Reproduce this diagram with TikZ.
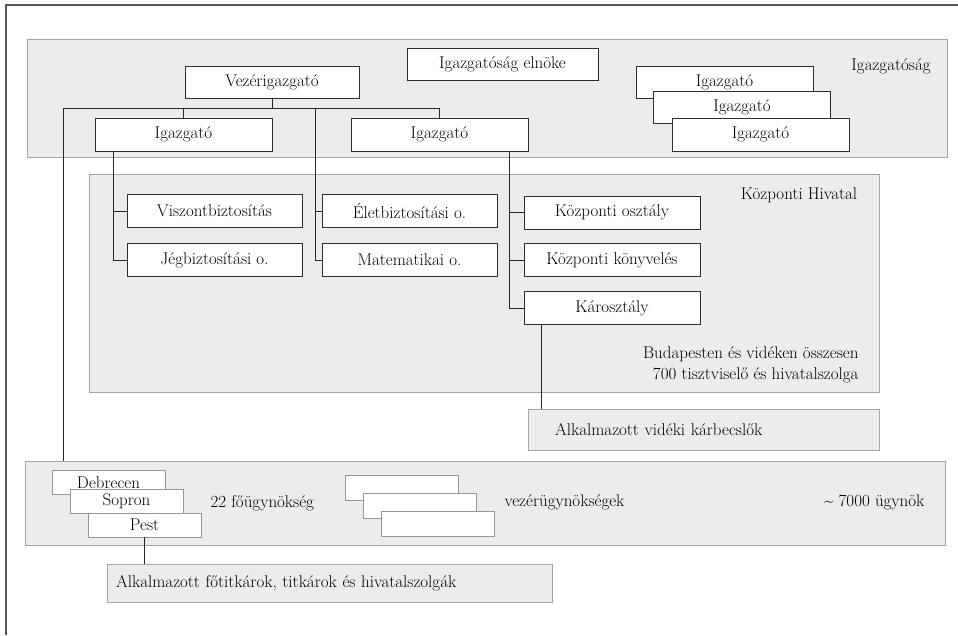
\documentclass[tikz,border=0pt]{standalone}
\usetikzlibrary{
  positioning,
  calc
}
\usepackage{xcolor}
\definecolor{bandFill}{RGB}{236,236,236}
\definecolor{bandEdge}{RGB}{165,165,165}
\definecolor{boxEdge}{RGB}{45,45,45}
\definecolor{agEdge}{RGB}{150,150,150}
\definecolor{frameGray}{RGB}{85,85,85}
\newcommand{\orgBox}[5][]{\node[unitbox,#1] (#2) at (#3,#4) {#5};}
\newcommand{\agBox}[5][]{\node[agencybox,#1] (#2) at (#3,#4) {#5};}
\tikzset{
  unitbox/.style={
    draw=boxEdge,
    fill=white,
    line width=0.9pt,
    inner sep = 0pt,
    minimum width = 176pt,
    minimum height = 33pt
  },
  agencybox/.style={
    draw=agEdge,
    fill=white,
    line width=0.9pt,
    inner sep = 0pt,
    minimum width = 113pt,
    minimum height = 24pt
  },
  band/.style={
    draw=bandEdge,
    fill=bandFill,
    line width=1pt,
    inner sep = 0pt
  },
  link/.style={draw=black!85, line width=0.8pt}
}

\begin{document}
\begin{tikzpicture}[
    x=1pt, y=-1pt,
    font=\fontsize{17}{21}\selectfont
  ]
  \useasboundingbox (0,0) rectangle (958,635);
  \draw[frameGray, line width=1.5pt] (6,635) -- (6,5) -- (958,5);

  % grey bands
  \node[band, minimum width=920pt, minimum height=118pt] (igBand) at (487,98) {};
  \node[band, minimum width=790pt, minimum height=218pt] (khBand) at (484,283) {};
  \node[band, minimum width=351pt, minimum height=41pt, inner xsep=27pt,
        text width=297pt, align=left] (kbBox) at (703.5,429.5) {Alkalmazott vidéki kárbecslők};
  \node[band, minimum width=920pt, minimum height=84pt] (agBand) at (485,503) {};
  \node[band, minimum width=445pt, minimum height=38pt, inner xsep=9pt,
        text width=427pt, align=left] (ftBox) at (329.5,583) {Alkalmazott főtitkárok, titkárok és hivatalszolgák};

  % Igazgatóság
  \orgBox[minimum width=174pt, minimum height=32pt]{vez}{272}{82}{Vezérigazgató}
  \orgBox[minimum width=191pt, minimum height=32pt]{elnok}{502.5}{64}{Igazgatóság elnöke}
  \orgBox[minimum width=177pt]{igL}{183.5}{134.5}{Igazgató}
  \orgBox[minimum width=177pt]{igR}{439.5}{134.5}{Igazgató}
  \orgBox[minimum width=177pt, minimum height=32pt]{igA}{724.5}{82}{Igazgató}
  \orgBox[minimum width=177pt, minimum height=32pt]{igB}{742}{107}{Igazgató}
  \orgBox[minimum width=177pt]{igC}{760.5}{134.5}{Igazgató}
  \node (igLabel) at (891,66) {Igazgatóság};

  % Központi Hivatal
  \orgBox[minimum width=175pt]{viszont}{214.5}{211}{Viszontbiztosítás}
  \orgBox[minimum width=175pt]{jeg}{214.5}{260}{Jégbiztosítási o.}
  \orgBox[minimum width=175pt]{elet}{409.5}{211}{Életbiztosítási o.}
  \orgBox[minimum width=175pt]{mat}{409.5}{260}{Matematikai o.}
  \orgBox{kozp}{612}{212.5}{Központi osztály}
  \orgBox{konyv}{612}{260}{Központi könyvelés}
  \orgBox{karo}{612}{308}{Károsztály}
  \node (khLabel) at (799,195) {Központi Hivatal};
  \node[anchor=east, align=right] (khNote) at (862,365)
    {Budapesten és vidéken összesen\\700 tisztviselő és hivatalszolga};

  % ügynökségek
  \agBox{debr}{108.5}{482.5}{Debrecen}
  \agBox{sopr}{126.5}{501.5}{Sopron}
  \agBox{pest}{144.5}{525}{Pest}
  \agBox[minimum height=25pt]{vezA}{401.5}{487.5}{}
  \agBox[minimum height=25pt]{vezB}{419.5}{505.5}{}
  \agBox[minimum height=25pt]{vezC}{437.5}{523.5}{}
  \node[anchor=west] (foLabel) at (207,503) {22 főügynökség};
  \node[anchor=west] (vezLabel) at (501,502) {vezérügynökségek};
  \node[anchor=east] (ugyLabel) at (928,502) {\textasciitilde{} 7000 ügynök};

  % connectors
  \coordinate (busW) at (63,108);
  \coordinate (busM) at (315,108);
  \coordinate (igLfoot) at (113,151);
  \coordinate (igRfoot) at (509,151);
  \coordinate (karoFoot) at (541,324);

  \draw[link] (igR.north) |- (busW) -- (busW |- agBand.north);
  \draw[link] (vez.south) -- (vez.south |- busW);
  \draw[link] (igL.north) -- (igL.north |- busW);
  \draw[link] (busM) |- (mat.west);
  \draw[link] (busM |- elet.west) -- (elet.west);
  \draw[link] (igLfoot) |- (jeg.west);
  \draw[link] (igLfoot |- viszont.west) -- (viszont.west);
  \draw[link] (igRfoot) |- (karo.west);
  \draw[link] (igRfoot |- kozp.west) -- (kozp.west);
  \draw[link] (igRfoot |- konyv.west) -- (konyv.west);
  \draw[link] (karoFoot) -- (karoFoot |- kbBox.north);
  \draw[link] (pest.south) -- (pest.south |- ftBox.north);
\end{tikzpicture}
\end{document}
